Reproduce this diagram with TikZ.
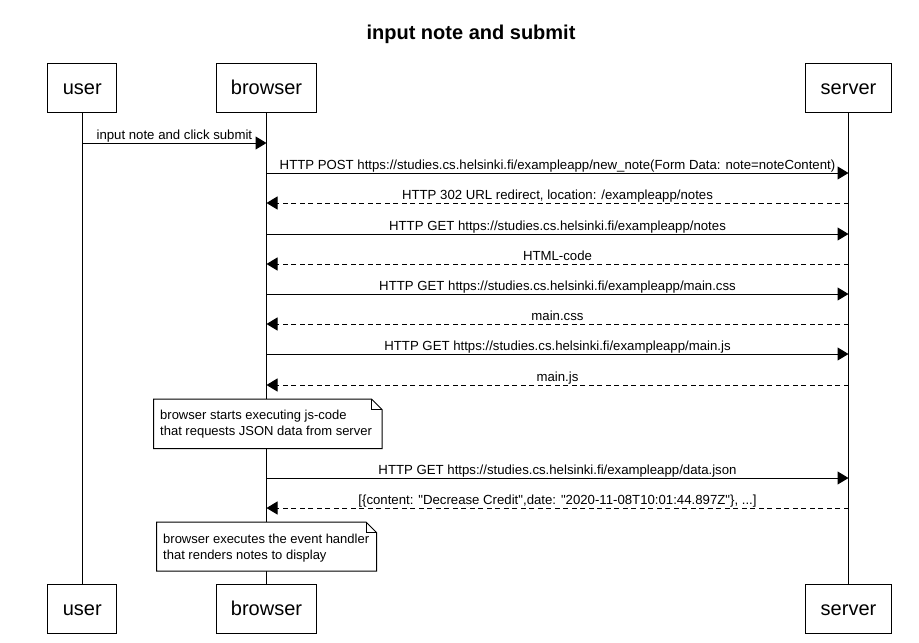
\documentclass[tikz,border=0pt]{standalone}
\usepackage{fontspec}
\setmainfont{Liberation Sans}
\newfontfamily\rawfont{Liberation Sans}
\usetikzlibrary{arrows.meta,calc}
\begin{document}
\begin{tikzpicture}[x=1pt,y=-1pt,
  actor/.style={draw,line width=1pt,minimum height=49pt,inner sep=0pt,text height=13.6pt,text depth=0pt,font=\fontsize{20}{24}\selectfont},
  life/.style={line width=1pt},
  msg/.style={line width=1pt,-{Triangle[length=11pt,width=13pt]}},
  reply/.style={msg,dash pattern=on 5pt off 3.5pt},
  lbl/.style={font=\rawfont\fontsize{13.2}{15}\selectfont,inner sep=0pt,anchor=base},
  notebox/.style={line width=1pt,fill=white},
  fold/.style={line width=0.8pt},
  notetext/.style={font=\fontsize{13}{16}\selectfont,align=left,anchor=north west,inner sep=0pt}]
\useasboundingbox (0,0) rectangle (919,643);
\fill[white] (0,0) rectangle (919,643);
\node[font=\bfseries\fontsize{20}{24}\selectfont] (title) at (471,34.5) {input note and submit};
% actors
\node[actor,minimum width=69pt] (ut) at (82.3,87.5) {user};
\node[actor,minimum width=100pt] (bt) at (266.5,87.5) {browser};
\node[actor,minimum width=86pt] (st) at (848.5,87.5) {server};
\node[actor,minimum width=69pt] (ub) at (82.3,608.5) {user};
\node[actor,minimum width=100pt] (bb) at (266.5,608.5) {browser};
\node[actor,minimum width=86pt] (sb) at (848.5,608.5) {server};
\draw[life] (ut) -- (ub);
\draw[life] (bt) -- (bb);
\draw[life] (st) -- (sb);
% message anchors
\foreach \n/\y in {1/143,2/173,3/203,4/234,5/264,6/294,7/324,8/354,9/385,10/478,11/508}{
  \coordinate (u\n) at (82.3,\y);
  \coordinate (b\n) at (266.5,\y);
  \coordinate (s\n) at (848.5,\y);
}
\draw[msg] (u1) -- (b1);
\node[lbl] (l1) at ($(u1)!0.5!(b1)+(0,-4)$) {input note and click submit};
\draw[msg] (b2) -- (s2);
\node[lbl] (l2) at ($(b2)!0.5!(s2)+(0,-4)$) {HTTP POST https://studies.cs.helsinki.fi/exampleapp/new\_note(Form Data: note=noteContent)};
\draw[reply] (s3) -- (b3);
\node[lbl] (l3) at ($(b3)!0.5!(s3)+(0,-4)$) {HTTP 302 URL redirect, location: /exampleapp/notes};
\draw[msg] (b4) -- (s4);
\node[lbl] (l4) at ($(b4)!0.5!(s4)+(0,-4)$) {HTTP GET https://studies.cs.helsinki.fi/exampleapp/notes};
\draw[reply] (s5) -- (b5);
\node[lbl] (l5) at ($(b5)!0.5!(s5)+(0,-4)$) {HTML-code};
\draw[msg] (b6) -- (s6);
\node[lbl] (l6) at ($(b6)!0.5!(s6)+(0,-4)$) {HTTP GET https://studies.cs.helsinki.fi/exampleapp/main.css};
\draw[reply] (s7) -- (b7);
\node[lbl] (l7) at ($(b7)!0.5!(s7)+(0,-4)$) {main.css};
\draw[msg] (b8) -- (s8);
\node[lbl] (l8) at ($(b8)!0.5!(s8)+(0,-4)$) {HTTP GET https://studies.cs.helsinki.fi/exampleapp/main.js};
\draw[reply] (s9) -- (b9);
\node[lbl] (l9) at ($(b9)!0.5!(s9)+(0,-4)$) {main.js};
\draw[msg] (b10) -- (s10);
\node[lbl] (l10) at ($(b10)!0.5!(s10)+(0,-4)$) {HTTP GET https://studies.cs.helsinki.fi/exampleapp/data.json};
\draw[reply] (s11) -- (b11);
\node[lbl] (l11) at ($(b11)!0.5!(s11)+(0,-4)$) {[\{content: "Decrease Credit",date: "2020-11-08T10:01:44.897Z"\}, ...]};
% notes
\draw[notebox] (153.5,399) -- (371.5,399) -- (382,409.5) -- (382,448.5) -- (153.5,448.5) -- cycle;
\draw[fold] (371.5,399) -- (371.5,409.5) -- (382,409.5);
\node[notetext] (n1) at (160,409.5) {browser starts executing js-code\\that requests JSON data from server};
\draw[notebox] (156.5,522) -- (366,522) -- (376.5,532.5) -- (376.5,571) -- (156.5,571) -- cycle;
\draw[fold] (366,522) -- (366,532.5) -- (376.5,532.5);
\node[notetext] (n2) at (163,533.5) {browser executes the event handler\\that renders notes to display};
\end{tikzpicture}
\end{document}
